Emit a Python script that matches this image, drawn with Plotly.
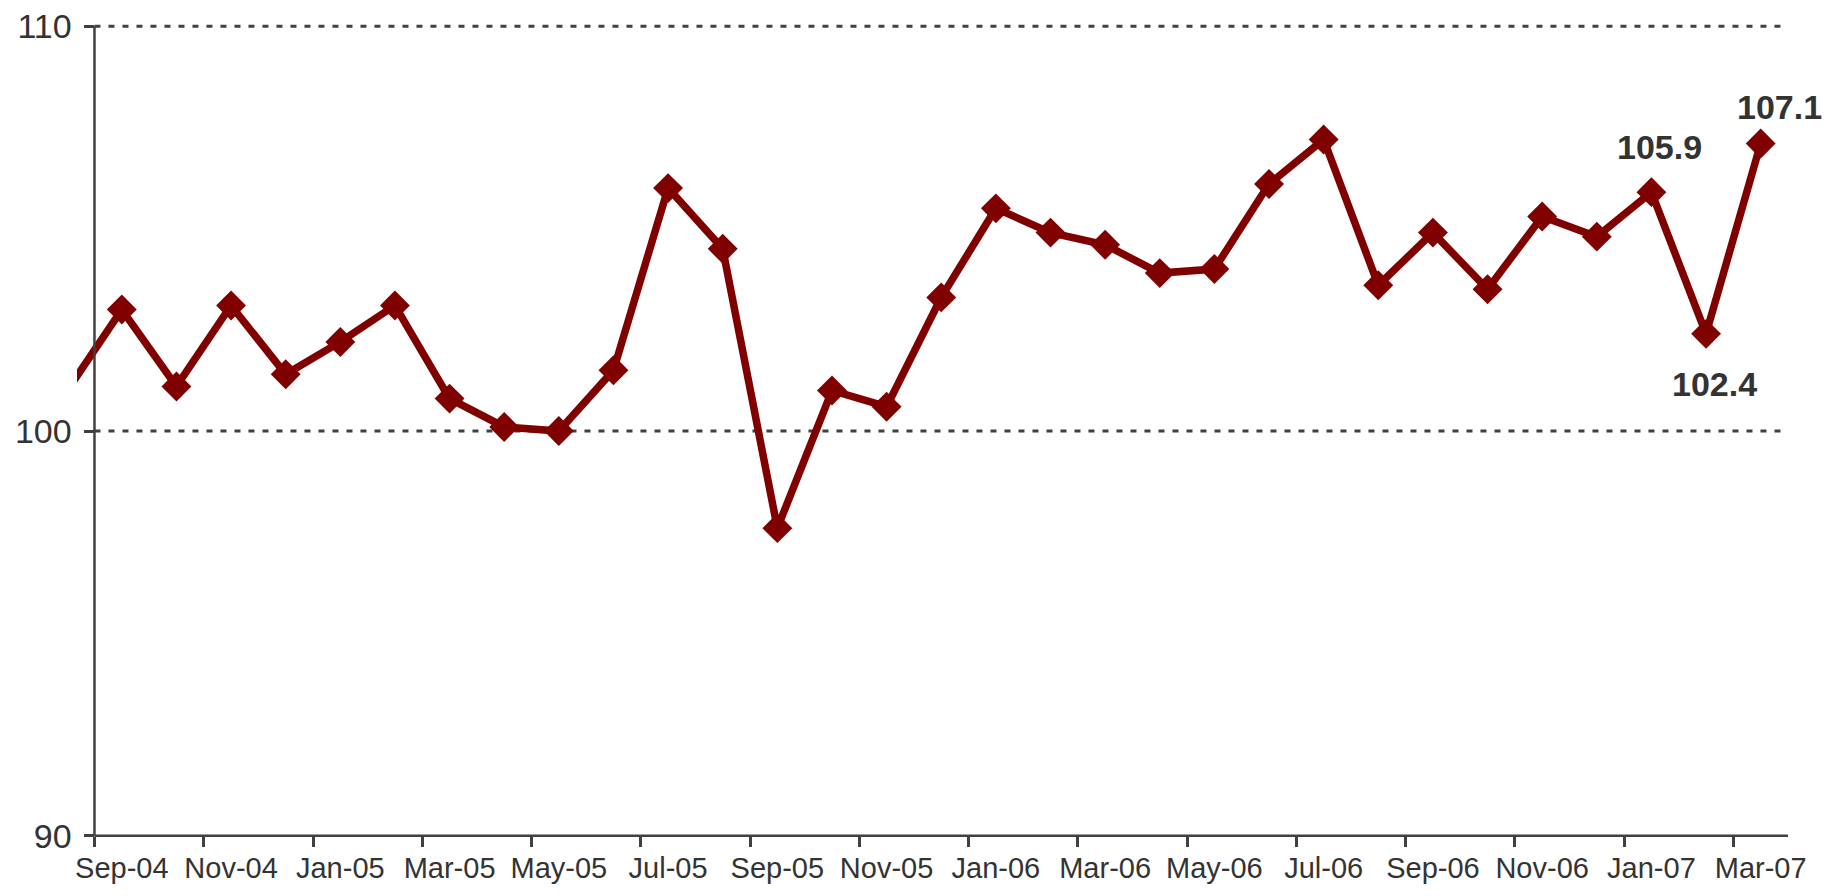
import plotly.graph_objects as go

# ---- data ----
months = ["Aug-04", "Sep-04", "Oct-04", "Nov-04", "Dec-04", "Jan-05", "Feb-05", "Mar-05",
          "Apr-05", "May-05", "Jun-05", "Jul-05", "Aug-05", "Sep-05", "Oct-05", "Nov-05",
          "Dec-05", "Jan-06", "Feb-06", "Mar-06", "Apr-06", "May-06", "Jun-06", "Jul-06",
          "Aug-06", "Sep-06", "Oct-06", "Nov-06", "Dec-06", "Jan-07", "Feb-07", "Mar-07"]
values = [101.0, 103.0, 101.1, 103.1, 101.4, 102.2, 103.1, 100.8,
          100.1, 100.0, 101.5, 106.0, 104.5, 97.6, 101.0, 100.6,
          103.3, 105.5, 104.9, 104.6, 103.9, 104.0, 106.1, 107.2,
          103.6, 104.9, 103.5, 105.3, 104.8, 105.9, 102.4, 107.1]
y_ticks = [90, 100, 110]
grid_values = [100, 110]
labelled_months = ["Jan-07", "Feb-07", "Mar-07"]

# ---- styles ----
FONT = "Arial, 'Liberation Sans', sans-serif"
LINE_COLOR = "#800000"
AXIS_COLOR = "#404040"
TEXT_COLOR = "#333333"
label_shift = {"Jan-07": (8, 45), "Feb-07": (8, -50), "Mar-07": (19, 37)}

pos = [i - 1 for i in range(len(months))]          # Sep-04 -> 0
visible_idx = list(range(1, len(months)))
tick_pos = pos[1::2]
tick_text = months[1::2]
x_min = -0.82
x_max = pos[-1] + 0.5
axis_start = pos[1] - 0.5
y_min, y_max = 89.7, 110.3

fig = go.Figure()
fig.add_trace(go.Scatter(
    x=pos, y=values, mode="lines",
    line=dict(color=LINE_COLOR, width=7.5),
    hoverinfo="skip", showlegend=False))
fig.add_trace(go.Scatter(
    x=[pos[i] for i in visible_idx], y=[values[i] for i in visible_idx],
    mode="markers",
    marker=dict(symbol="diamond", size=23, color=LINE_COLOR),
    text=[months[i] for i in visible_idx],
    showlegend=False))

shapes = []
for g in grid_values:
    shapes.append(dict(type="line", xref="x", yref="y", x0=axis_start, x1=x_max, y0=g, y1=g,
                       line=dict(color=AXIS_COLOR, width=3, dash="6px,8px"), layer="below"))
shapes.append(dict(type="line", xref="x", yref="y", x0=axis_start, x1=axis_start,
                   y0=y_ticks[0], y1=y_ticks[-1], line=dict(color=AXIS_COLOR, width=2.5)))
shapes.append(dict(type="line", xref="x", yref="y", x0=axis_start, x1=x_max,
                   y0=y_ticks[0], y1=y_ticks[0], line=dict(color=AXIS_COLOR, width=2.5)))

annotations = []
for m in labelled_months:
    i = months.index(m)
    dx, dy = label_shift[m]
    annotations.append(dict(x=pos[i], y=values[i], xref="x", yref="y", text=f"{values[i]:.1f}",
                            showarrow=False, xshift=dx, yshift=dy,
                            font=dict(family=FONT, size=34, color=TEXT_COLOR, weight="bold")))

fig.update_layout(
    width=1833, height=888,
    margin=dict(l=69, r=53, t=6, b=48, autoexpand=False),
    paper_bgcolor="white", plot_bgcolor="white",
    font=dict(family=FONT, color=TEXT_COLOR),
    shapes=shapes, annotations=annotations,
    xaxis=dict(range=[x_min, x_max], tickmode="array", tickvals=tick_pos, ticktext=tick_text,
               ticks="", showline=False, showgrid=False, zeroline=False, automargin=False,
               anchor="free", position=(y_ticks[0] - y_min) / (y_max - y_min),
               tickfont=dict(size=29, color=TEXT_COLOR), ticklabelstandoff=12,
               ticklabeloverflow="allow",
               minor=dict(tickmode="array", tickvals=[p - 0.5 for p in tick_pos], ticks="outside",
                          ticklen=10, tickwidth=2.5, tickcolor=AXIS_COLOR, showgrid=False)),
    yaxis=dict(range=[y_min, y_max], tickmode="array", tickvals=y_ticks,
               ticks="outside", ticklen=10, tickwidth=2.5, tickcolor=AXIS_COLOR,
               showline=False, showgrid=False, zeroline=False, automargin=False,
               anchor="free", position=(axis_start - x_min) / (x_max - x_min),
               tickfont=dict(size=34, color=TEXT_COLOR), ticklabelstandoff=6,
               ticklabeloverflow="allow"),
)

fig.write_html("out.html")
